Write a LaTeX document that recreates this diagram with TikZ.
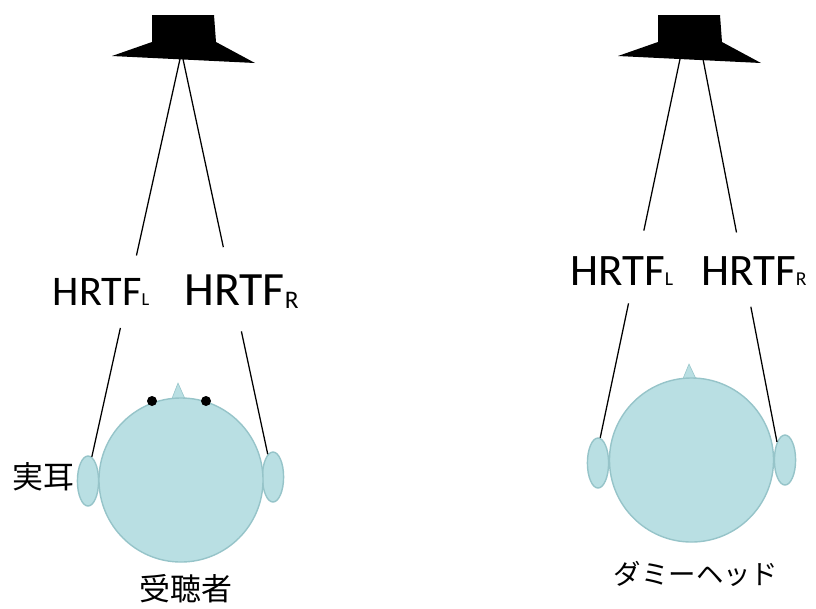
\documentclass[tikz,border=0pt]{standalone}
\usepackage{fontspec}
\setmainfont{Carlito}
\newfontfamily\jp{Noto Sans CJK JP}
\usepackage{tikz}
\usetikzlibrary{shapes, calc, positioning}

\definecolor{skin}{RGB}{185,223,227}
\definecolor{skinline}{RGB}{150,196,201}

% HRTF with a small index letter: size, index size, letter, shift
\newcommand{\hrtf}[4]{{\fontsize{#1}{#1}\selectfont HRTF}\raisebox{#4}{\fontsize{#2}{#2}\selectfont #3}}

\tikzset{
	head/.style={circle, fill=skin, draw=skinline, line width=1pt, minimum size=4.1cm, inner sep=0},
	ear/.style={ellipse, fill=skin, draw=skinline, line width=1pt, minimum width=0.53cm, minimum height=1.25cm, inner sep=0},
	mic/.style={circle, fill=black, minimum size=0.25cm, inner sep=0},
	path/.style={line width=0.9pt},
	tf/.style={anchor=base west, inner sep=0},
	jp/.style={inner sep=0, font=\jp\fontsize{#1}{#1}\selectfont}
}

\begin{document}
\begin{tikzpicture}[x=0.025cm, y=-0.025cm]
		\useasboundingbox (0,0) rectangle (816,608);
		
		%//loudspeakers
		\foreach \x in {0, 506}
		\fill[black] (112+\x,56) -- (152+\x,42) -- (152+\x,15) -- (214+\x,15) -- (216+\x,42) -- (255+\x,63) -- cycle;
		
		\coordinate (spkAL) at (180,59);
		\coordinate (spkAR) at (183,59);
		\coordinate (spkBL) at (680,59);
		\coordinate (spkBR) at (703,59);
		
		%//listener
		\node[ear] (earAL) at (88,481) {};
		\node[ear] (earAR) at (273,477) {};
		\filldraw[fill=skin, draw=skinline] (171,401) -- (178,383) -- (186,401) -- cycle;
		\node[head] (headA) at (181,480) {};
		\node[mic] (micL) at (152,401) {};
		\node[mic] (micR) at (206,401) {};
		
		%//dummy head
		\node[ear] (earBL) at (598,463) {};
		\node[ear] (earBR) at (785,460) {};
		\filldraw[fill=skin, draw=skinline] (682,381) -- (689,364) -- (697,381) -- cycle;
		\node[head] (headB) at (691.5,460) {};
		
		%//transfer paths, broken by the labels
		\draw[path] (spkAL) -- ($(spkAL)!0.494!(earAL.81)$);
		\draw[path] ($(spkAL)!0.676!(earAL.81)$) -- (earAL.81);
		\draw[path] (spkAR) -- ($(spkAR)!0.476!(earAR.103)$);
		\draw[path] ($(spkAR)!0.689!(earAR.103)$) -- (earAR.103);
		\draw[path] (spkBL) -- ($(spkBL)!0.453!(earBL.85)$);
		\draw[path] ($(spkBL)!0.645!(earBL.85)$) -- (earBL.85);
		\draw[path] (spkBR) -- ($(spkBR)!0.453!(earBR.114)$);
		\draw[path] ($(spkBR)!0.647!(earBR.114)$) -- (earBR.114);
		
		\node[tf] (hrtfAL) at (52.6,305) {\hrtf{30}{13}{L}{0pt}};
		\node[tf] (hrtfAR) at (184,305) {\hrtf{34}{18}{R}{-2.8pt}};
		\node[tf] (hrtfBL) at (570,285) {\hrtf{32}{14}{L}{0pt}};
		\node[tf] (hrtfBR) at (701,285) {\hrtf{32}{14}{R}{0pt}};
		
		\node[jp=22] (realear) at (43,477) {実耳};
		\node[jp=22] (listener) at (186,589) {受聴者};
		\node[jp=19.5] (dummy) at (696,574) {ダミーヘッド};
\end{tikzpicture}
\end{document}
